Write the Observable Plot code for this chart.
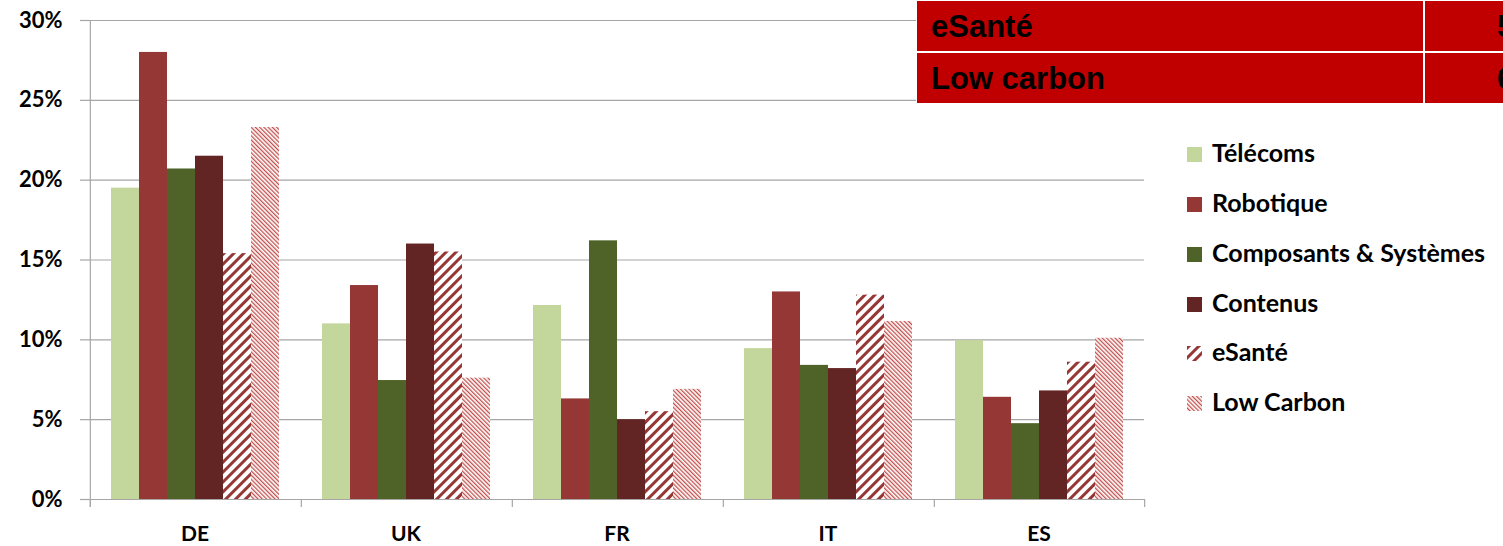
<!DOCTYPE html>
<html>
<head>
<meta charset="utf-8">
<script src="https://cdn.jsdelivr.net/npm/d3@7"></script>
<script src="https://cdn.jsdelivr.net/npm/@observablehq/plot@0.6"></script>
<style>
  html, body { margin: 0; padding: 0; background: #fff; }
  #wrap { position: relative; width: 1503px; height: 546px; overflow: hidden; }
  #table { position: absolute; left: 916px; top: 0; width: 600px; height: 104px; background: #fff; }
  .cell { position: absolute; background: #c00000; font-family: "Liberation Sans", Arial, sans-serif; font-weight: bold; font-size: 31px; color: #000; line-height: 52px; box-sizing: border-box; padding-left: 14px; white-space: nowrap; overflow: hidden; }
  #legend { position: absolute; left: 1187px; top: 0; font-family: Lato, "Open Sans", sans-serif; font-weight: bold; font-size: 25px; color: #000; }
  .item { position: absolute; left: 0; white-space: nowrap; height: 30px; line-height: 30px; }
  .item svg { position: absolute; left: 0; top: 10px; }
  .item span { position: absolute; left: 25px; top: 0; }
</style>
</head>
<body>
<svg width="0" height="0" style="position:absolute">
  <defs>
    <pattern id="pat-esante" patternUnits="userSpaceOnUse" width="7" height="7" patternTransform="rotate(45)">
      <rect width="7" height="7" fill="#ffffff"></rect>
      <rect width="3" height="7" fill="#953735"></rect>
    </pattern>
    <pattern id="pat-lowcarbon" patternUnits="userSpaceOnUse" width="3" height="3" patternTransform="rotate(-45)">
      <rect width="3" height="3" fill="#ffffff"></rect>
      <rect width="1.3" height="3" fill="#c0504d"></rect>
    </pattern>
  </defs>
</svg>
<div id="wrap">
  <div id="chart"></div>
  <div id="table"></div>
  <div id="legend"></div>
</div>
<script>
const countries = ["DE", "UK", "FR", "IT", "ES"];
const series = ["Télécoms", "Robotique", "Composants & Systèmes", "Contenus", "eSanté", "Low Carbon"];
const telecoms   = [19.5, 11.0, 12.15, 9.45, 9.95];
const robotique  = [28.0, 13.4, 6.3, 13.0, 6.4];
const composants = [20.7, 7.45, 16.2, 8.4, 4.75];
const contenus   = [21.5, 16.0, 5.0, 8.2, 6.8];
const esante     = [15.4, 15.5, 5.5, 12.8, 8.6];
const lowCarbon  = [23.3, 7.6, 6.9, 11.15, 10.1];
const yTicks = [0, 5, 10, 15, 20, 25, 30];
const seriesFills = ["#c3d69b", "#953735", "#4f6228", "#632523", "url(#pat-esante)", "url(#pat-lowcarbon)"];
const tableRows = ["eSanté", "Low carbon"];
const tableValues = ["5", "6"];

const allValues = [telecoms, robotique, composants, contenus, esante, lowCarbon];
const rows = [];
countries.forEach((c, i) => series.forEach((s, j) => rows.push({country: c, series: s, value: allValues[j][i]})));

const W = 1503, ML = 89, MR = 359;
const padOuter = 0.75;
const facetW = (W - ML - MR) / countries.length;
const bw = facetW / (series.length + 2 * padOuter);
const edge = padOuter * bw + bw / 2;
const gridColor = "#a6a6a6";

const plot = Plot.plot({
  width: W, height: 546,
  marginLeft: ML, marginRight: MR, marginTop: 20, marginBottom: 47,
  style: {fontFamily: "Lato, 'Open Sans', sans-serif", background: "transparent", color: "#000"},
  fx: {domain: countries, padding: 0, label: null},
  x: {domain: series, paddingInner: 0, paddingOuter: padOuter, axis: null},
  y: {domain: [0, 30], label: null},
  color: {domain: series, range: seriesFills},
  marks: [
    Plot.gridY(yTicks, {stroke: gridColor, strokeOpacity: 1, strokeWidth: 1.2}),
    Plot.barY(rows, {fx: "country", x: "series", y: "value", fill: "series"}),
    Plot.axisY(yTicks, {tickSize: 9, tickPadding: 18, tickFormat: d => d + "%", fontSize: 22, fontWeight: "bold", stroke: gridColor, strokeWidth: 1.2}),
    Plot.ruleX([{country: "DE"}], {fx: "country", x: () => series[0], dx: -edge, y1: 30, y2: -0.5, stroke: gridColor, strokeWidth: 1.2}),
    Plot.ruleX(countries.map(c => ({country: c})), {fx: "country", x: () => series[0], dx: -edge, y1: 0, y2: -0.5, stroke: gridColor, strokeWidth: 1.2}),
    Plot.ruleX([{country: countries[countries.length - 1]}], {fx: "country", x: () => series[series.length - 1], dx: edge, y1: 0, y2: -0.5, stroke: gridColor, strokeWidth: 1.2}),
    Plot.axisFx({anchor: "bottom", tickSize: 0, tickPadding: 27, fontSize: 21, fontWeight: "bold", label: null})
  ]
});
document.getElementById("chart").appendChild(plot);

// table overlay
const table = document.getElementById("table");
const rowTops = [1, 53];
tableRows.forEach((t, i) => {
  const a = document.createElement("div");
  a.className = "cell";
  a.style.left = "1px"; a.style.top = rowTops[i] + "px"; a.style.width = "506px"; a.style.height = "50px";
  a.textContent = t;
  table.appendChild(a);
  const b = document.createElement("div");
  b.className = "cell";
  b.style.left = "509px"; b.style.top = rowTops[i] + "px"; b.style.width = "100px"; b.style.height = "50px";
  b.style.paddingLeft = "72px";
  b.textContent = tableValues[i];
  table.appendChild(b);
});

// legend
const legend = document.getElementById("legend");
const legendY = [137, 187, 237, 287, 336, 386];
series.forEach((s, i) => {
  const it = document.createElement("div");
  it.className = "item";
  it.style.top = legendY[i] + "px";
  it.innerHTML = `<svg width="15" height="15"><rect width="15" height="15" fill="${seriesFills[i]}"></rect></svg><span>${s}</span>`;
  legend.appendChild(it);
});
</script>
</body>
</html>
